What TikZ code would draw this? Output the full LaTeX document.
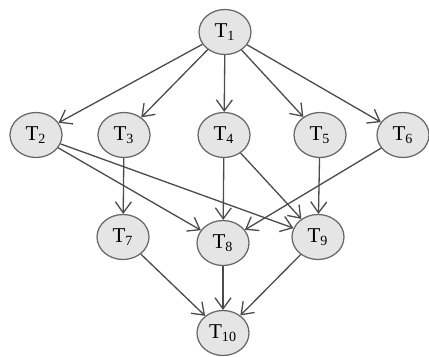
\documentclass[tikz,border=0pt]{standalone}
\usepackage{fontspec}
\setmainfont{Liberation Serif}
\usetikzlibrary{arrows.meta, shapes.geometric}

\begin{document}
\begin{tikzpicture}[
        task/.style={ellipse, draw=black!60, fill=black!10, line width=0.7pt,
          minimum width=1.04cm, minimum height=0.9cm, inner sep=0pt, font=\large},
        edge/.style={draw=black!70, line width=0.75pt, -{Straight Barb[length=2.2mm, width=3.2mm]}}
      ]
        \useasboundingbox (0,0) rectangle (8.58,7.12);
        \node [task] (t1) at (4.50, 6.48) {T\textsubscript{1}};
        \node [task] (t2) at (0.72, 4.42) {T\textsubscript{2}};
        \node [task] (t3) at (2.48, 4.42) {T\textsubscript{3}};
        \node [task] (t4) at (4.48, 4.42) {T\textsubscript{4}};
        \node [task] (t5) at (6.40, 4.42) {T\textsubscript{5}};
        \node [task] (t6) at (8.06, 4.42) {T\textsubscript{6}};
        \node [task] (t7) at (2.46, 2.38) {T\textsubscript{7}};
        \node [task] (t8) at (4.46, 2.26) {T\textsubscript{8}};
        \node [task] (t9) at (6.36, 2.38) {T\textsubscript{9}};
        \node [task] (t10) at (4.46, 0.46) {T\textsubscript{10}};
        \draw [edge] (t1) -- (t2);
        \draw [edge] (t1) -- (t3);
        \draw [edge] (t1) -- (t4);
        \draw [edge] (t1) -- (t5);
        \draw [edge] (t1) -- (t6);
        \draw [edge] (t2) -- (t8);
        \draw [edge] (t2) -- (t9);
        \draw [edge] (t3) -- (t7);
        \draw [edge] (t4) -- (t8);
        \draw [edge] (t4) -- (t9);
        \draw [edge] (t5) -- (t9);
        \draw [edge] (t6) -- (t8);
        \draw [edge] (t7) -- (t10);
        \draw [edge] (t8) -- (t10);
        \draw [edge] (t9) -- (t10);
      \end{tikzpicture}
\end{document}
